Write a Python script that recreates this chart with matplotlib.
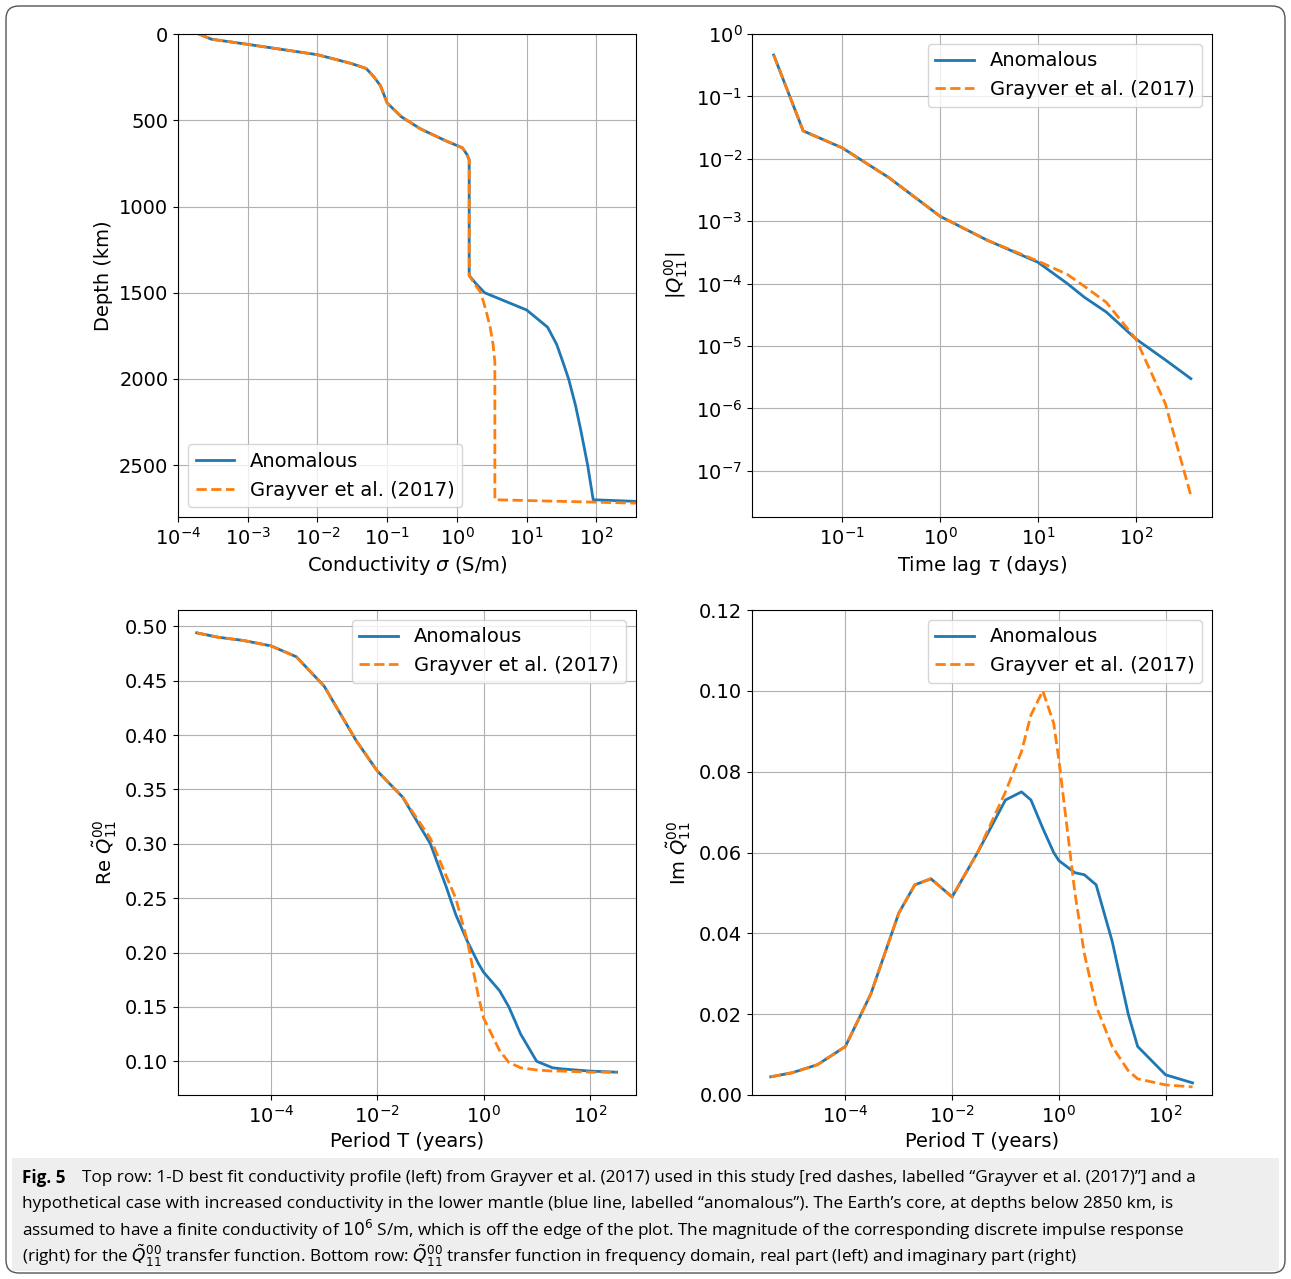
import numpy as np
import matplotlib.pyplot as plt
from matplotlib.patches import FancyBboxPatch, Rectangle

plt.rcParams['font.size'] = 14

# top left: conductivity profile
depth_common = [0, 30, 60, 120, 170, 200, 250, 300, 400, 480, 550, 620, 660, 700, 730, 1000, 1400]
sig_common = [2e-4, 3e-4, 1e-3, 1e-2, 3e-2, 5e-2, 6.5e-2, 8e-2, 1e-1, 1.6e-1, 0.3, 0.7, 1.2, 1.4, 1.5, 1.5, 1.5]
depth_gray = [1450, 1500, 1600, 1700, 1800, 1900, 2700, 2720]
sig_gray = [1.8, 2.2, 2.6, 3.0, 3.3, 3.5, 3.5, 400]
depth_anom = [1450, 1500, 1600, 1700, 1800, 1900, 2000, 2150, 2300, 2500, 2700, 2710]
sig_anom = [1.9, 2.5, 10, 20, 27, 33, 40, 50, 60, 75, 90, 400]

# top right: impulse response
tau = [0.02, 0.04, 0.1, 0.3, 1, 3, 10, 20, 30, 50, 100, 200, 365]
q_anom = [0.46, 0.028, 0.015, 5e-3, 1.2e-3, 5e-4, 2.2e-4, 1.0e-4, 6e-5, 3.5e-5, 1.3e-5, 6e-6, 3e-6]
q_gray = [0.46, 0.028, 0.015, 5e-3, 1.2e-3, 5e-4, 2.3e-4, 1.4e-4, 9e-5, 5e-5, 1.3e-5, 1.2e-6, 4e-8]

# bottom: frequency domain
period = [4e-6, 1e-5, 3e-5, 1e-4, 3e-4, 1e-3, 2e-3, 4e-3, 1e-2, 3e-2, 0.1, 0.2, 0.3, 0.5, 0.8, 1, 2, 3, 5, 10, 20, 30, 100, 320]
re_anom = [0.494, 0.490, 0.487, 0.482, 0.472, 0.445, 0.42, 0.395, 0.367, 0.343, 0.30, 0.26, 0.235, 0.21, 0.19, 0.182, 0.165, 0.15, 0.125, 0.10, 0.094, 0.093, 0.091, 0.09]
re_gray = [0.494, 0.490, 0.487, 0.482, 0.472, 0.445, 0.42, 0.395, 0.367, 0.343, 0.305, 0.27, 0.25, 0.21, 0.16, 0.14, 0.11, 0.099, 0.094, 0.092, 0.091, 0.091, 0.09, 0.09]
im_anom = [0.0045, 0.0055, 0.0075, 0.012, 0.025, 0.045, 0.052, 0.0535, 0.049, 0.06, 0.073, 0.075, 0.073, 0.066, 0.06, 0.058, 0.055, 0.0545, 0.052, 0.038, 0.02, 0.012, 0.005, 0.003]
im_gray = [0.0045, 0.0055, 0.0075, 0.012, 0.025, 0.045, 0.052, 0.0535, 0.049, 0.06, 0.075, 0.085, 0.094, 0.1, 0.092, 0.083, 0.05, 0.035, 0.022, 0.012, 0.006, 0.004, 0.0025, 0.002]

blue = '#1f77b4'
orange = '#ff7f0e'
labels = ['Anomalous', 'Grayver et al. (2017)']

fig = plt.figure(figsize=(12.91, 12.79), dpi=100)
W, H = 1291, 1279

def mk(x0, y0, x1, y1):
    return fig.add_axes([x0 / W, 1 - y1 / H, (x1 - x0) / W, (y1 - y0) / H])

ax1 = mk(178, 34, 636, 517)
ax2 = mk(752, 34, 1212, 517)
ax3 = mk(178, 610, 636, 1095)
ax4 = mk(752, 610, 1212, 1095)

ax1.plot(sig_common + sig_anom, depth_common + depth_anom, color=blue, lw=2, label=labels[0])
ax1.plot(sig_common + sig_gray, depth_common + depth_gray, color=orange, lw=2, ls='--', label=labels[1])
ax1.set_xscale('log')
ax1.set_xlim(1e-4, 3.7e2)
ax1.set_ylim(2800, 0)
ax1.set_yticks([0, 500, 1000, 1500, 2000, 2500])
ax1.set_xticks([10.0**k for k in range(-4, 3)])
ax1.set_xlabel(r'Conductivity $\sigma$ (S/m)')
ax1.set_ylabel('Depth (km)')
ax1.legend(loc='lower left')

ax2.plot(tau, q_anom, color=blue, lw=2, label=labels[0])
ax2.plot(tau, q_gray, color=orange, lw=2, ls='--', label=labels[1])
ax2.set_xscale('log')
ax2.set_yscale('log')
ax2.set_xlim(0.012, 600)
ax2.set_ylim(10**-7.74, 1)
ax2.set_yticks([10.0**k for k in range(-7, 1)])
ax2.set_xticks([0.1, 1, 10, 100])
ax2.set_xlabel(r'Time lag $\tau$ (days)')
ax2.set_ylabel(r'$|Q_{11}^{00}|$')
ax2.legend(loc='upper right')

ax3.plot(period, re_anom, color=blue, lw=2, label=labels[0])
ax3.plot(period, re_gray, color=orange, lw=2, ls='--', label=labels[1])
ax3.set_xscale('log')
ax3.set_xlim(10**-5.75, 10**2.87)
ax3.set_ylim(0.069, 0.515)
ax3.set_yticks(np.arange(0.10, 0.501, 0.05))
ax3.set_xticks([1e-4, 1e-2, 1, 1e2])
ax3.set_xlabel('Period T (years)')
ax3.set_ylabel(r'Re $\tilde{Q}_{11}^{00}$')
ax3.legend(loc='upper right')

ax4.plot(period, im_anom, color=blue, lw=2, label=labels[0])
ax4.plot(period, im_gray, color=orange, lw=2, ls='--', label=labels[1])
ax4.set_xscale('log')
ax4.set_xlim(10**-5.75, 10**2.87)
ax4.set_ylim(0, 0.12)
ax4.set_yticks(np.arange(0, 0.121, 0.02))
ax4.set_xticks([1e-4, 1e-2, 1, 1e2])
ax4.set_xlabel('Period T (years)')
ax4.set_ylabel(r'Im $\tilde{Q}_{11}^{00}$')
ax4.legend(loc='upper right')

for ax in [ax1, ax2, ax3, ax4]:
    ax.grid(True, color='#b0b0b0')
    ax.minorticks_off()

# frame and caption
fig.patches.append(FancyBboxPatch((6 / W, 6 / H), 1279 / W, 1267 / H, boxstyle='round,pad=0,rounding_size=0.01',
                                  transform=fig.transFigure, fill=False, ec='#555555', lw=1))
fig.patches.append(Rectangle((12 / W, 8 / H), 1267 / W, 113 / H, transform=fig.transFigure,
                             fc='#eeeeee', ec='none', zorder=-1))
cap = [
    'Top row: 1-D best fit conductivity profile (left) from Grayver et al. (2017) used in this study [red dashes, labelled \u201cGrayver et al. (2017)\u201d] and a',
    'hypothetical case with increased conductivity in the lower mantle (blue line, labelled \u201canomalous\u201d). The Earth\u2019s core, at depths below 2850 km, is',
    r'assumed to have a finite conductivity of $10^6$ S/m, which is off the edge of the plot. The magnitude of the corresponding discrete impulse response',
    r'(right) for the $\tilde{Q}_{11}^{00}$ transfer function. Bottom row: $\tilde{Q}_{11}^{00}$ transfer function in frequency domain, real part (left) and imaginary part (right)',
]
for i, line in enumerate(cap):
    x0 = 82 if i == 0 else 22
    fig.text(x0 / W, 1 - (1178 + i * 26) / H, line, fontsize=12.3, va='center', family='Open Sans')
fig.text(22 / W, 1 - 1178 / H, 'Fig. 5', fontsize=12.3, va='center', weight='bold', family='Open Sans')

fig.savefig('out.png', dpi=100)
